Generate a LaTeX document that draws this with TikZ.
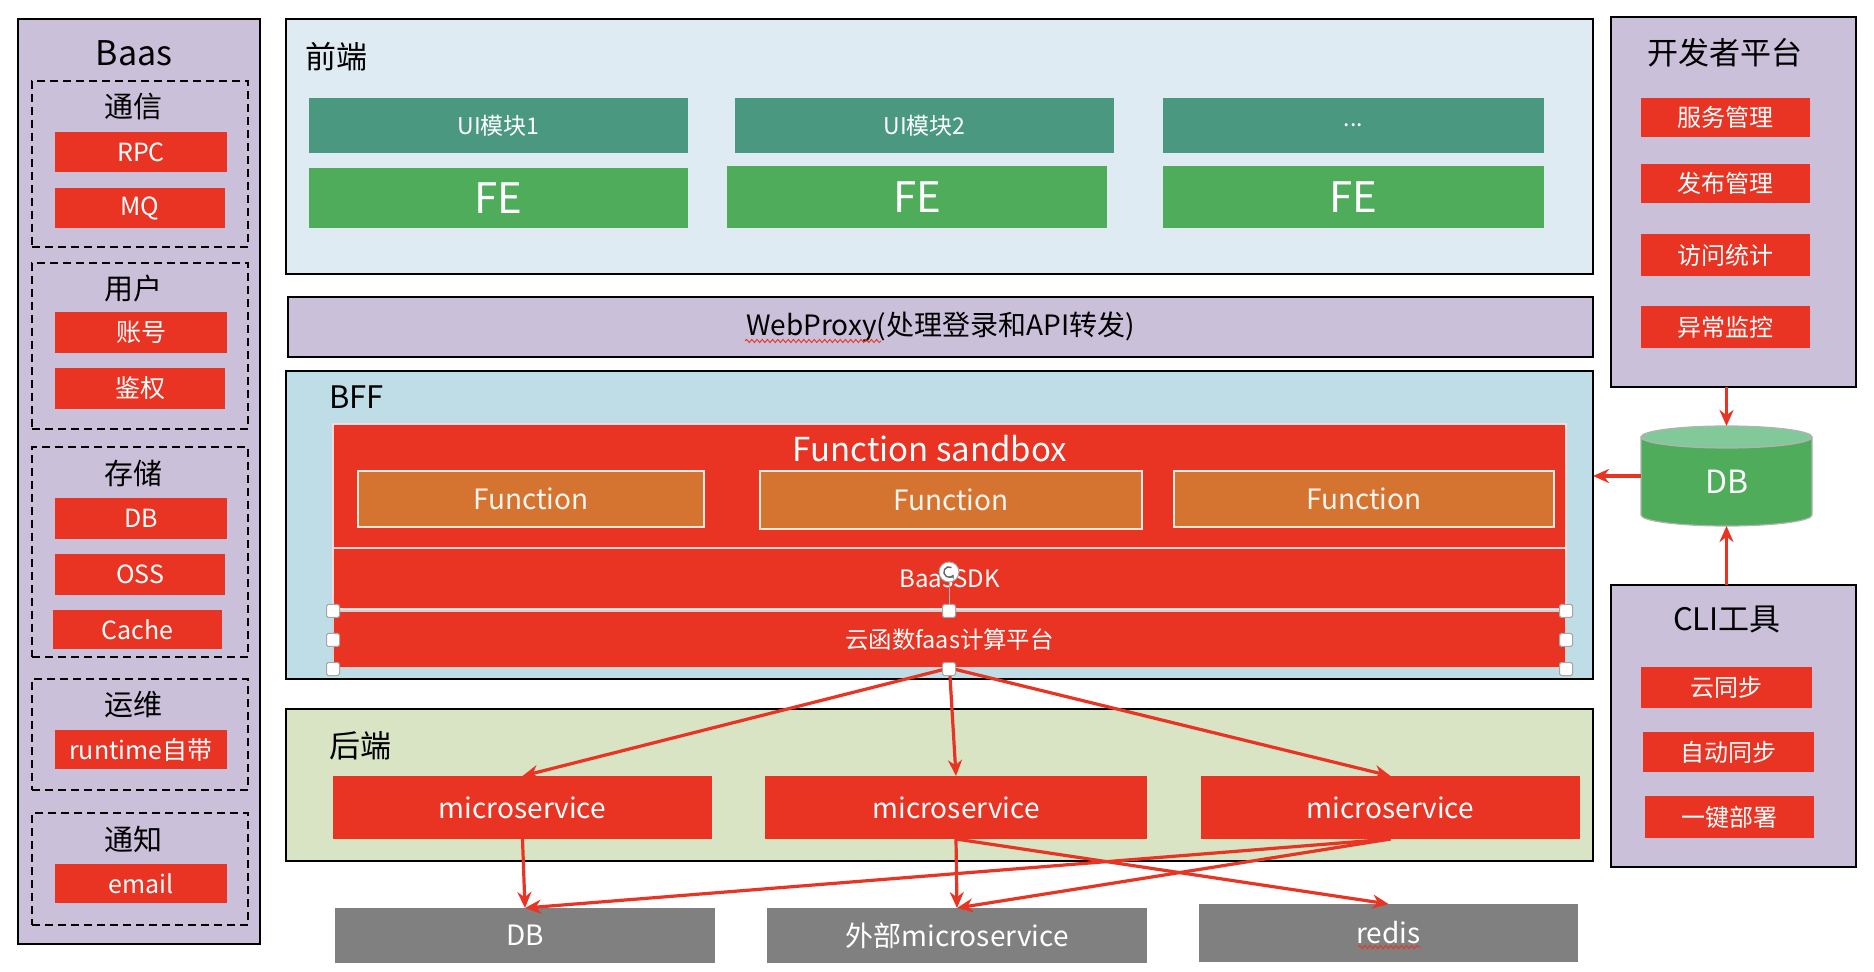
\documentclass[tikz,border=0pt]{standalone}
\usepackage{fontspec}
\setmainfont{Noto Sans CJK SC}
\usetikzlibrary{arrows.meta,decorations.pathmorphing}
\definecolor{myred}{RGB}{233,51,35}
\definecolor{lav}{RGB}{203,192,218}
\definecolor{fepanel}{RGB}{222,235,243}
\definecolor{bffpanel}{RGB}{191,221,230}
\definecolor{bepanel}{RGB}{216,228,195}
\definecolor{teal}{RGB}{74,152,128}
\definecolor{fegreen}{RGB}{78,172,91}
\definecolor{orng}{RGB}{213,116,48}
\definecolor{grybox}{RGB}{128,128,128}
\definecolor{cyltop}{RGB}{130,201,154}
\newcommand\fs[1]{\fontsize{#1}{#1}\selectfont}
\newcommand\bx[7]{%
  \pgfmathsetmacro\bxw{(#5-#3)*0.5}%
  \pgfmathsetmacro\bxh{(#6-#4)*0.5}%
  \node[rectangle, inner sep=0pt, outer sep=0pt, minimum width=\bxw pt, minimum height=\bxh pt, #2] (#1) at ({(#3+#5)/2},{(#4+#6)/2}) {#7};}
\tikzset{
  panel/.style={draw=black, line width=1.1pt},
  dashbox/.style={draw=black, line width=0.9pt, dash pattern=on 4pt off 2.5pt},
  redbox/.style={fill=myred, text=white, font=\fs{12.5}},
  grplabel/.style={font=\fs{14.5}, text=black},
  ptitle/.style={font=\fs{15.5}, text=black},
  uibox/.style={fill=teal, text=white, font=\fs{11.5}},
  febox/.style={fill=fegreen, text=white, font=\fs{21}},
  fnbox/.style={fill=orng, draw=white!85!orng, line width=0.9pt, text=white!92!orng, font=\fs{14}},
  msbox/.style={fill=myred, text=white, font=\fs{14}},
  gbox/.style={fill=grybox, text=white, font=\fs{14}},
  arr/.style={draw=myred, line width=1.6pt, -{Stealth[length=8pt,width=7pt]}},
  handle/.style={draw=gray!70, fill=white, line width=0.5pt, minimum size=6.5pt, inner sep=0pt, rounded corners=0.8pt},
  squig/.style={draw=myred, line width=0.45pt, decorate, decoration={snake, segment length=2.6pt, amplitude=0.8pt}},
}
\begin{document}
\begin{tikzpicture}[x=0.5pt, y=-0.5pt]
\fill[white] (0,0) rectangle (1874,972);
\useasboundingbox (0,0) rectangle (1874,972);

% ---------------- Baas column ----------------
\bx{baas}{panel, fill=lav}{18}{19}{260}{944}{}
\node[font=\fs{17}] (tbaas) at (134,53) {Baas};
\bx{g1}{dashbox}{32}{81}{248}{247}{}
\node[grplabel] (l1) at (133,107) {通信};
\bx{rpc}{redbox}{55}{132}{227}{172}{RPC}
\bx{mq}{redbox}{55}{188}{225}{228}{MQ}
\bx{g2}{dashbox}{32}{263}{248}{429}{}
\node[grplabel] (l2) at (133,288) {用户};
\bx{acct}{redbox}{55}{312}{227}{353}{账号}
\bx{auth}{redbox}{55}{368}{225}{409}{鉴权}
\bx{g3}{dashbox}{32}{447}{248}{657}{}
\node[grplabel] (l3) at (133,473) {存储};
\bx{sdb}{redbox}{55}{498}{227}{539}{DB}
\bx{oss}{redbox}{55}{554}{225}{595}{OSS}
\bx{cache}{redbox}{53}{610}{222}{649}{Cache}
\bx{g4}{dashbox}{32}{679}{248}{790}{}
\node[grplabel] (l4) at (133,705) {运维};
\bx{rt}{redbox}{55}{730}{227}{769}{runtime自带}
\bx{g5}{dashbox}{32}{813}{248}{925}{}
\node[grplabel] (l5) at (133,839) {通知};
\bx{email}{redbox}{55}{864}{227}{903}{email}

% ---------------- Front end ----------------
\bx{fe}{panel, fill=fepanel}{286}{19}{1593}{274}{}
\node[ptitle, anchor=west] (tfe) at (298,57) {前端};
\bx{ui1}{uibox}{309}{98}{688}{153}{UI模块1}
\bx{ui2}{uibox}{735}{98}{1114}{153}{UI模块2}
\bx{ui3}{uibox}{1163}{98}{1544}{153}{...}
\bx{fe1}{febox}{309}{168}{688}{228}{FE}
\bx{fe2}{febox}{727}{166}{1107}{228}{FE}
\bx{fe3}{febox}{1163}{166}{1544}{228}{FE}

% ---------------- WebProxy ----------------
\bx{wp}{panel, fill=lav, font=\fs{14}}{288}{297}{1593}{357}{WebProxy(处理登录和API转发)}
\draw[squig] (745,341) -- (881,341);

% ---------------- BFF ----------------
\bx{bff}{panel, fill=bffpanel}{286}{371}{1593}{679}{}
\node[ptitle, anchor=west] (tbff) at (322,397) {BFF};
\bx{sandbox}{fill=myred, draw=red!15!white, line width=0.8pt}{333}{424}{1566}{548}{}
\node[font=\fs{16.5}, text=white] (tsb) at (930,449) {Function sandbox};
\bx{fn1}{fnbox}{358}{471}{704}{527}{Function}
\bx{fn2}{fnbox}{760}{471}{1142}{529}{Function}
\bx{fn3}{fnbox}{1174}{471}{1554}{527}{Function}
\bx{sdk}{fill=myred, draw=red!15!white, line width=0.8pt, text=white, font=\fs{12}}{333}{548}{1566}{609}{BaasSDK}
\bx{yun}{fill=myred, draw=gray!35!white, line width=0.8pt, text=white, font=\fs{11.7}}{333}{611}{1566}{668}{云函数faas计算平台}
\draw[squig] (902,592) -- (1005,592);
\draw[squig] (918,652) -- (964,652);

% ---------------- Back end ----------------
\bx{be}{panel, fill=bepanel}{286}{709}{1593}{861}{}
\node[ptitle, anchor=west] (tbe) at (322,746) {后端};
\bx{ms1}{msbox}{333}{776}{712}{839}{microservice}
\bx{ms2}{msbox}{765}{776}{1147}{839}{microservice}
\bx{ms3}{msbox}{1201}{776}{1580}{839}{microservice}

% ---------------- Bottom stores ----------------
\bx{bdb}{gbox}{335}{908}{715}{963}{DB}
\bx{ext}{gbox}{767}{908}{1147}{963}{外部microservice}
\bx{redis}{gbox}{1199}{904}{1578}{962}{redis}
\draw[squig] (1358,947) -- (1421,947);

% ---------------- Developer platform ----------------
\bx{dev}{panel, fill=lav}{1611}{17}{1856}{387}{}
\node[ptitle] (tdev) at (1725,53) {开发者平台};
\bx{d1}{redbox, font=\fs{12}}{1641}{98}{1810}{137}{服务管理}
\bx{d2}{redbox, font=\fs{12}}{1641}{164}{1810}{203}{发布管理}
\bx{d3}{redbox, font=\fs{12}}{1641}{234}{1810}{276}{访问统计}
\bx{d4}{redbox, font=\fs{12}}{1641}{306}{1810}{348}{异常监控}

% ---------------- CLI ----------------
\bx{cli}{panel, fill=lav}{1611}{585}{1856}{867}{}
\node[ptitle] (tcli) at (1727,619) {CLI工具};
\bx{c1}{redbox, font=\fs{12}}{1641}{667}{1812}{708}{云同步}
\bx{c2}{redbox, font=\fs{12}}{1643}{732}{1814}{772}{自动同步}
\bx{c3}{redbox, font=\fs{12}}{1645}{796}{1814}{838}{一键部署}

% ---------------- DB cylinder ----------------
\path[fill=fegreen, draw=gray!60, line width=0.6pt] (1641,437) -- (1641,515) arc[start angle=180, end angle=0, x radius=85.5, y radius=11] -- (1812,437) -- cycle;
\path[fill=cyltop, draw=gray!60, line width=0.6pt] (1726.5,437) ellipse[x radius=85.5, y radius=11];
\bx{dbc}{}{1641}{426}{1812}{526}{}
\node[text=white, font=\fs{16}] (tdbc) at (1726.5,482) {DB};

% ---------------- Connectors ----------------
\draw[arr] (dev.south -| dbc.north) -- (dbc.north);
\draw[arr] (cli.north -| dbc.south) -- (dbc.south);
\draw[arr] (dbc.west) -- (dbc.west -| bff.east);
\draw[arr] (yun.south) -- (ms1.north);
\draw[arr] (yun.south) -- (ms2.north);
\draw[arr] (yun.south) -- (ms3.north);
\draw[arr] (ms1.south) -- (bdb.north);
\draw[arr] (ms2.south) -- (ext.north);
\draw[arr] (ms2.south) -- (redis.north);
\draw[arr] (ms3.south) -- (bdb.north);
\draw[arr] (ms3.south) -- (ext.north);

% ---------------- selection handles (on top) ----------------
\draw[gray!60, line width=0.5pt] (949,580) -- (949,611);
\node[draw=gray!70, fill=white, circle, minimum size=10pt, inner sep=0pt, line width=0.5pt] (rot) at (949,572) {};
\draw[gray!80!black, line width=0.7pt, -{Stealth[length=2pt,width=2.5pt]}] (rot.center) ++(60:2.6pt) arc[start angle=60, end angle=330, radius=2.6pt];
\foreach \n/\px/\py in {h1/333/611, h2/949/611, h3/1566/611, h4/333/640, h5/1566/640, h6/333/669, h7/949/669, h8/1566/669}
  \node[handle] (\n) at (\px,\py) {};
\end{tikzpicture}
\end{document}
